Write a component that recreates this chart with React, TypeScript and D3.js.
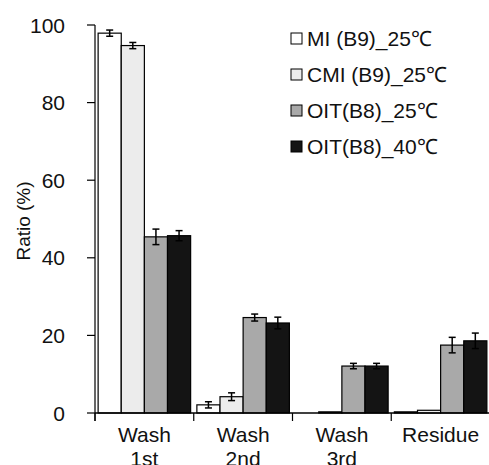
import React, { useEffect, useRef } from "react";
import * as d3 from "d3";

const categories = ["Wash 1st", "Wash 2nd", "Wash 3rd", "Residue"];
const categoryLabels = [["Wash", "1st"], ["Wash", "2nd"], ["Wash", "3rd"], ["Residue"]];
const seriesNames = ["MI (B9)_25℃", "CMI (B9)_25℃", "OIT(B8)_25℃", "OIT(B8)_40℃"];
const seriesFills = ["#ffffff", "#ececec", "#a9a9a9", "#141414"];

const miValues = [97.9, 2.1, 0.0, 0.3];
const cmiValues = [94.7, 4.2, 0.3, 0.7];
const oit25Values = [45.4, 24.6, 12.1, 17.5];
const oit40Values = [45.7, 23.2, 12.1, 18.6];

const miErrors = [0.8, 0.8, 0, 0];
const cmiErrors = [0.8, 1.0, 0, 0];
const oit25Errors = [2.0, 0.9, 0.7, 2.0];
const oit40Errors = [1.3, 1.5, 0.7, 2.0];

const yTicks = [0, 20, 40, 60, 80, 100];

const seriesValues = [miValues, cmiValues, oit25Values, oit40Values];
const seriesErrors = [miErrors, cmiErrors, oit25Errors, oit40Errors];

const font = "Arial, 'Liberation Sans', sans-serif";

const App = () => {
  const svgRef = useRef<SVGSVGElement>(null);

  useEffect(() => {
    const width = 489;
    const height = 465;
    const left = 95;
    const top = 25;
    const bottom = 413;
    const right = 490;

    const svg = d3.select(svgRef.current).attr("width", width).attr("height", height);
    svg.selectAll("*").remove();

    const x = d3.scaleBand().domain(categories).range([left, right]).paddingInner(0).paddingOuter(0);
    const inner = d3
      .scaleBand()
      .domain(seriesNames)
      .range([0, x.bandwidth()])
      .paddingInner(0)
      .paddingOuter(0.135);
    const y = d3.scaleLinear().domain([0, 100]).range([bottom, top]);

    // bars
    seriesNames.forEach((name, si) => {
      const g = svg.append("g");
      categories.forEach((cat, ci) => {
        const v = seriesValues[si][ci];
        const bx = (x(cat) as number) + (inner(name) as number);
        g.append("rect")
          .attr("x", bx)
          .attr("y", y(v))
          .attr("width", inner.bandwidth())
          .attr("height", bottom - y(v))
          .attr("fill", seriesFills[si])
          .attr("stroke", "#000")
          .attr("stroke-width", 1.2);
        const e = seriesErrors[si][ci];
        if (e > 0) {
          const cx = bx + inner.bandwidth() / 2;
          g.append("line")
            .attr("x1", cx).attr("x2", cx)
            .attr("y1", y(v - e)).attr("y2", y(v + e))
            .attr("stroke", "#000").attr("stroke-width", 1.5);
          [v - e, v + e].forEach((ev) => {
            g.append("line")
              .attr("x1", cx - 3.5).attr("x2", cx + 3.5)
              .attr("y1", y(ev)).attr("y2", y(ev))
              .attr("stroke", "#000").attr("stroke-width", 1.5);
          });
        }
      });
    });

    // y axis
    svg.append("line")
      .attr("x1", left).attr("x2", left)
      .attr("y1", top).attr("y2", bottom + 8)
      .attr("stroke", "#000").attr("stroke-width", 1.2);
    yTicks.forEach((t) => {
      svg.append("line")
        .attr("x1", left - 8).attr("x2", left)
        .attr("y1", y(t)).attr("y2", y(t))
        .attr("stroke", "#000").attr("stroke-width", 1.2);
      svg.append("text")
        .attr("x", 65)
        .attr("y", y(t) + 7.5)
        .attr("text-anchor", "end")
        .style("font-family", font)
        .style("font-size", "21px")
        .style("fill", "#111")
        .text(t);
    });

    svg.append("text")
      .attr("transform", `translate(30, ${(top + bottom) / 2 + 2}) rotate(-90)`)
      .attr("text-anchor", "middle")
      .style("font-family", font)
      .style("font-size", "19px")
      .style("fill", "#111")
      .text("Ratio (%)");

    // x axis
    svg.append("line")
      .attr("x1", left).attr("x2", right)
      .attr("y1", bottom).attr("y2", bottom)
      .attr("stroke", "#000").attr("stroke-width", 1.5);
    categories.forEach((cat, ci) => {
      const bx = x(cat) as number;
      svg.append("line")
        .attr("x1", bx).attr("x2", bx)
        .attr("y1", bottom).attr("y2", bottom + 8)
        .attr("stroke", "#000").attr("stroke-width", 1.2);
      categoryLabels[ci].forEach((line, li) => {
        svg.append("text")
          .attr("x", bx + x.bandwidth() / 2)
          .attr("y", 442 + li * 24)
          .attr("text-anchor", "middle")
          .style("font-family", font)
          .style("font-size", "21px")
          .style("fill", "#111")
          .text(line);
      });
    });

    // legend
    seriesNames.forEach((name, si) => {
      const cy = 39 + si * 36;
      svg.append("rect")
        .attr("x", 291).attr("y", cy - 6)
        .attr("width", 11).attr("height", 11)
        .attr("fill", seriesFills[si])
        .attr("stroke", "#000").attr("stroke-width", 1);
      svg.append("text")
        .attr("x", 307).attr("y", cy + 7)
        .style("font-family", font)
        .style("font-size", "21px")
        .style("fill", "#111")
        .text(name);
    });
  }, []);

  return (
    <div style={{ position: "absolute", left: 0, top: 0 }}>
      <svg ref={svgRef} style={{ display: "block" }}></svg>
    </div>
  );
};

export default App;
